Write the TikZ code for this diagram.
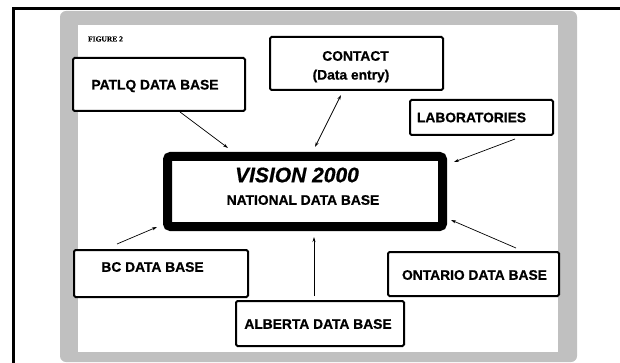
\documentclass[tikz,border=0pt]{standalone}
\usepackage{fontspec}
\setmainfont{Liberation Sans}[BoldFeatures={FakeBold=0.7}, BoldItalicFeatures={FakeBold=0.7}]
\newfontfamily\figfont{Liberation Serif}[BoldFeatures={FakeBold=0.6}]
\usetikzlibrary{calc,arrows.meta}
\definecolor{framegray}{RGB}{192,192,192}
\tikzset{
  box/.style={draw=black, line width=2pt, rounded corners=1.5pt, fill=white, inner sep=0pt},
  mainbox/.style={draw=black, line width=9pt, rounded corners=3pt, fill=white, inner sep=0pt,
    minimum width=275pt, minimum height=70pt},
  lbl/.style={font=\fontsize{13.8}{16}\selectfont\bfseries, inner sep=0pt},
  arr/.style={line width=0.7pt, -{Stealth[length=5pt,width=3pt]}},
  arrboth/.style={line width=0.7pt, {Stealth[length=5pt,width=3pt]}-{Stealth[length=5pt,width=3pt]}}
}
\begin{document}
\begin{tikzpicture}[x=1pt,y=-1pt]
\useasboundingbox (0,0) rectangle (620,363);
% outer black frame (cropped)
\draw[line width=3pt] (13,363) -- (13,9) -- (620,9);
% gray frame
\fill[framegray, rounded corners=6pt] (60,11) rectangle (577,362);
\fill[white] (78,25) rectangle (558,352);
% title
\node[font=\figfont\fontsize{7.5}{9}\selectfont\bfseries, inner sep=0pt] (fig) at (105.5,39) {FIGURE 2};
% boxes
\node[box, minimum width=172pt, minimum height=53pt] (patlq) at (159,84.5) {};
\node[lbl] (patlqt) at (155,86) {PATLQ DATA BASE};
\node[box, minimum width=173pt, minimum height=53pt] (contact) at (356.5,63.5) {};
\node[lbl] (contactt1) at (355.5,56) {CONTACT};
\node[lbl] (contactt2) at (351,76) {(Data entry)};
\node[box, minimum width=143pt, minimum height=35pt] (labs) at (481.5,117.5) {};
\node[lbl] (labst) at (471.5,117.5) {LABORATORIES};
\node[mainbox] (vision) at (305,191.5) {};
\node[font=\fontsize{21}{24}\selectfont\bfseries\itshape, inner sep=0pt] (visiont) at (297,175) {VISION 2000};
\node[lbl] (nationalt) at (303,200) {NATIONAL DATA BASE};
\node[box, minimum width=174pt, minimum height=47pt] (bc) at (161,273.5) {};
\node[lbl] (bct) at (152.5,267) {BC DATA BASE};
\node[box, minimum width=168pt, minimum height=45pt] (alberta) at (320,323.5) {};
\node[lbl] (albertat) at (318,324) {ALBERTA DATA BASE};
\node[box, minimum width=171pt, minimum height=44pt] (ontario) at (473.5,274) {};
\node[lbl] (ontariot) at (474.5,275) {ONTARIO DATA BASE};
% connectors
\draw[arr] ($(patlq.south)+(21,0)$) -- ($(vision.north west)+(65,-4)$);
\draw[arrboth] ($(contact.south)+(-15.5,4)$) -- ($(vision.north)+(10,-5)$);
\draw[arr] ($(labs.south)+(33.5,3)$) -- ($(vision.north east)+(7,10)$);
\draw[arr] ($(bc.north)+(-44,-5)$) -- ($(vision.south west)+(-6,-4)$);
\draw[arr] ($(alberta.north)+(-6,-4)$) -- ($(vision.south)+(9,6)$);
\draw[arr] ($(ontario.north)+(42.5,-3)$) -- ($(vision.south east)+(4,-11)$);
\end{tikzpicture}
\end{document}
